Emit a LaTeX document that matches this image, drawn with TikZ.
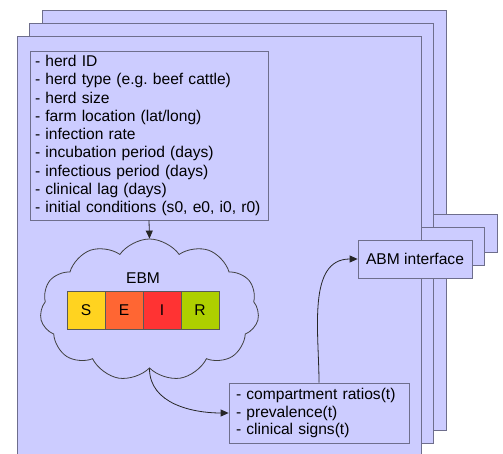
\documentclass[tikz,border=0pt]{standalone}
\usepackage{fontspec}
\setmainfont{Liberation Sans}
\usetikzlibrary{arrows.meta,shapes,positioning}
\definecolor{panelfill}{HTML}{CCCCFF}
\definecolor{panelline}{HTML}{6E6E8C}
\definecolor{sfill}{HTML}{FFD320}
\definecolor{efill}{HTML}{FF6633}
\definecolor{ifill}{HTML}{FF3333}
\definecolor{rfill}{HTML}{AECF00}

\begin{document}
\frenchspacing
\begin{tikzpicture}[x=1pt,y=1pt,>={Triangle[length=8pt,width=7pt]},
  font=\fontsize{15.6}{18.25}\selectfont]

  \tikzstyle{panel}=[draw=panelline,fill=panelfill,line width=1pt]
  \tikzstyle{box}=[rectangle,draw=panelline,fill=panelfill,line width=0.8pt]
  \tikzstyle{comp}=[rectangle,draw=black!65,line width=0.8pt,
                    minimum size=38pt,inner sep=0pt,outer sep=0pt]
  \tikzstyle{link}=[->,draw=black!85,line width=0.8pt]

  \useasboundingbox (0,0) rectangle (503,453);
  \clip (0,0) rectangle (503,453);

  % herds behind the front one
  \foreach \k in {2,1} {
    \begin{scope}[shift={(12.5*\k,13*\k)}]
      \draw[panel] (17,-3) rectangle (421,416);
      \node[box,minimum width=114pt,minimum height=38pt] (abm\k) at (415,194) {};
    \end{scope}
  }

  % front herd
  \draw[panel] (17,-3) rectangle (421,416);

  \node[box,text width=228pt,inner xsep=5pt,minimum height=169pt,align=left]
        (herd) at (149,317.5)
        {- herd ID\\
         - herd type (e.g. beef cattle)\\
         - herd size\\
         - farm location (lat/long)\\
         - infection rate\\
         - incubation period (days)\\
         - infectious period (days)\\
         - clinical lag (days)\\
         - initial conditions (s0, e0, i0, r0)};

  \node[cloud,draw=black!75,fill=panelfill,line width=0.8pt,cloud puffs=11,
        cloud puff arc=110,aspect=1.55,minimum width=219pt,minimum height=142pt]
        (ebm) at (149.5,143) {};

  \node[comp,fill=sfill] (S) at (86,143) {S};
  \node[comp,fill=efill] (E) [right=0pt of S] {E};
  \node[comp,fill=ifill] (I) [right=0pt of E] {I};
  \node[comp,fill=rfill] (R) [right=0pt of I] {R};
  \node (ebmlabel) [above=4pt of E.north east] {EBM};

  \node[box,text width=166pt,inner xsep=7pt,minimum height=60pt,align=left,
        font=\fontsize{15.6}{17.5}\selectfont]
        (ratios) at (319,40)
        {- compartment ratios(t)\\
         - prevalence(t)\\
         - clinical signs(t)};

  \node[box,minimum width=114pt,minimum height=38pt] (abm) at (415,194) {ABM interface};

  \draw[link] (herd.south) -- (ebm.north);
  \draw[link] (ebm.south) to[out=-90,in=180] (ratios.west);
  \draw[link] (ratios.north) to[out=90,in=180] (abm.west);
\end{tikzpicture}
\end{document}
